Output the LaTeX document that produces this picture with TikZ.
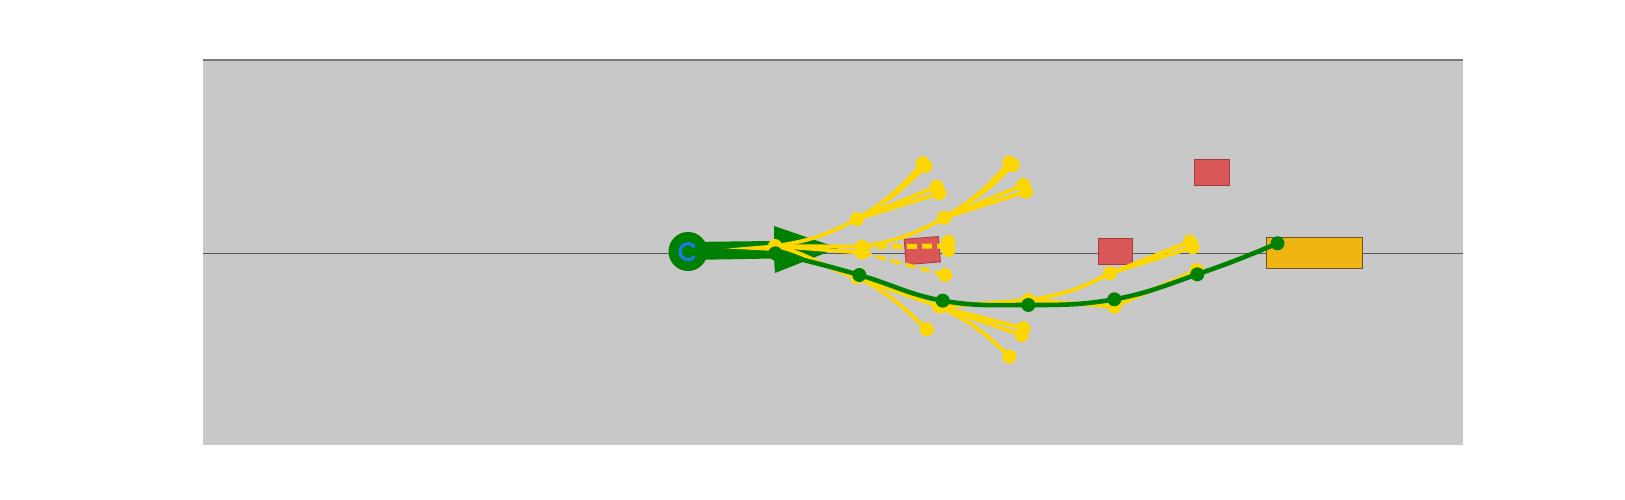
\documentclass[tikz,border=0pt]{standalone}
\usetikzlibrary{arrows.meta}

\definecolor{lanegray}{HTML}{C8C8C8}
\definecolor{pathgreen}{HTML}{008000}
\definecolor{treegold}{HTML}{FFD700}
\definecolor{ringblue}{HTML}{1E78E6}
\definecolor{obsred}{HTML}{D95757}
\definecolor{obsedge}{HTML}{A83A3A}
\definecolor{goalfill}{HTML}{F0B513}
\definecolor{goaledge}{HTML}{6B5520}

\begin{document}
\begin{tikzpicture}[x=1pt, y=1pt,
                       branch/.style = {treegold, line width = 3.8pt, line cap = round},
                       probe/.style = {treegold, line width = #1, dash pattern = on 10pt off 5pt},
                       spine/.style = {pathgreen, line width = 4.6pt},
                       obstacle/.style = {draw = obsedge, fill = obsred, line width = .8pt,
                                          inner sep = 0pt, minimum width = 34.4pt, minimum height = 26pt},
                       goal/.style = {draw = goaledge, fill = goalfill, line width = 1pt, inner sep = 0pt}
                      ]
     \useasboundingbox (0,0) rectangle (1625,500);
     \fill[lanegray] (203,55.3) rectangle (1463,440);
     \draw[black!52, line width = 1.1pt] (203,440) -- (1463,440);
     \draw[black!65, line width = .8pt] (203,247) -- (1463,247);

     \node[obstacle, minimum width = 35.7pt, minimum height = 26.7pt] (obsTop) at (1211.85,327.65) {};
     \node[obstacle] (obsMid) at (1115.5,248.7) {};
     \node[obstacle, minimum height = 25.5pt, rotate = 4.5] (obsNear) at (922.3,249.4) {};
     \node[goal, minimum width = 96.4pt, minimum height = 31pt] (target) at (1314.5,247.2) {};

     \fill[pathgreen] (688,248.5) circle (19.5);
     \fill[pathgreen] (688,258) -- (774,259) -- (774,274) -- (838,252) -- (775,227)
                       -- (774,241.5) -- (688,240) -- cycle;
     \fill[treegold] (727,251.5) -- (775,255.5) -- (775,249) -- cycle;

     \coordinate (r) at (775,254);
     \coordinate (a1) at (857,281);     \coordinate (a2a) at (862,253.3);
     \coordinate (a2b) at (862,247.3);  \coordinate (a3) at (857,222.7);
     \coordinate (b1a) at (922.7,336.7); \coordinate (b1b) at (925.3,334);
     \coordinate (b2a) at (936.7,313.3); \coordinate (b2b) at (939.3,306.7);
     \coordinate (b3) at (944,282.3);
     \coordinate (c1a) at (1009.3,337.3); \coordinate (c1b) at (1012.7,335);
     \coordinate (c2a) at (1023.3,315);  \coordinate (c2b) at (1026,308.3);
     \coordinate (d1a) at (948.3,258.3); \coordinate (d1b) at (948.3,250);
     \coordinate (d1) at (948.3,254);    \coordinate (d2) at (945,225);
     \coordinate (b4) at (939.3,193.3);  \coordinate (b5) at (926.7,170.7);
     \coordinate (h1a) at (1023.3,171.7); \coordinate (h1b) at (1021.7,165);
     \coordinate (h2) at (1009.3,143.3);
     \coordinate (e1) at (1028.3,200);   \coordinate (e2) at (1114.3,193.3);
     \coordinate (e3) at (1196.7,230);   \coordinate (f1) at (1110,226.7);
     \coordinate (g1a) at (1190,258.3);  \coordinate (g1b) at (1192.7,252.7);

     \draw[branch] (r) to[out=8, in=208] (a1);
     \draw[branch] (r) -- (a2a);
     \draw[branch] (r) -- (a2b);
     \draw[branch] (r) to[out=-12, in=165] (a3);
     \draw[branch] (a1) to[out=30, in=228] (b1a);
     \draw[branch] (a1) to[out=30, in=226] (b1b);
     \draw[branch] (a1) -- (b2a);
     \draw[branch] (a1) -- (b2b);
     \draw[branch] (a2a) to[out=10, in=210] (b3);
     \draw[branch] (b3) to[out=30, in=228] (c1a);
     \draw[branch] (b3) to[out=30, in=226] (c1b);
     \draw[branch] (b3) -- (c2a);
     \draw[branch] (b3) -- (c2b);
     \draw[probe=5pt] (a2a) -- (d1);
     \draw[probe=3.5pt] (a2b) -- (d2);
     \draw[branch] (a3) to[out=-25, in=137] (b5);
     \draw[branch] (a3) -- (b4);
     \draw[branch] (b4) -- (h1a);
     \draw[branch] (b4) -- (h1b);
     \draw[branch] (b4) to[out=-25, in=135] (h2);
     \draw[branch] (b4) -- (e1);
     \draw[branch] (e1) to[out=8, in=208] (f1);
     \draw[branch] (f1) -- (g1a);
     \draw[branch] (f1) -- (g1b);
     \draw[branch] (e1) -- (e2);
     \draw[branch] (e2) -- (e3);

     \foreach \p in {r, a1, a2a, a2b, a3, b1a, b1b, b2a, b2b, b3, c1a, c1b, c2a, c2b,
                     d1a, d1b, d2, b4, b5, h1a, h1b, h2, e1, e2, e3, f1, g1a, g1b}
        \fill[treegold] (\p) circle (7);

     \coordinate (s0) at (775.3,246.7);
     \coordinate (s1) at (859.3,225);
     \coordinate (s2) at (942.7,199.3);
     \coordinate (s3) at (1028.3,195);
     \coordinate (s4) at (1114.3,200.7);
     \coordinate (s5) at (1197.3,225.7);
     \coordinate (s6) at (1277.5,256.7);
     \draw[spine] (s0) to[out=-13, in=164] (s1) to[out=-16, in=170] (s2)
                       to[out=-10, in=180] (s3) to[out=0, in=190] (s4)
                       to[out=10, in=199] (s5) to[out=19, in=203] (s6);
     \foreach \p in {s0, s1, s2, s3, s4, s5, s6}
        \fill[pathgreen] (\p) circle (7);

     \draw[ringblue, line width = 3.2pt] (688,248.3) ++(35:8) arc (35:325:8);
   \end{tikzpicture}
\end{document}
